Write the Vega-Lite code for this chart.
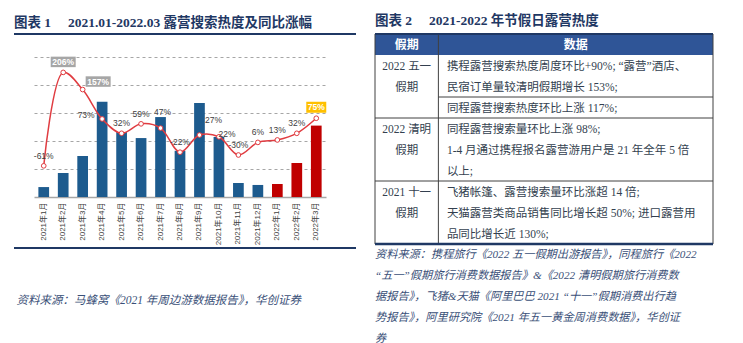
{
"$schema": "https://vega.github.io/schema/vega-lite/v6.json",
"background": "white",
"padding": {"left": 13, "top": 13, "right": 0, "bottom": 0},
"spacing": 16,
"config": {"view": {"stroke": null}},
"datasets": {
"months": [
{"month":"2021年1月","year":"2021","idx":7.1,"yoy":-61},
{"month":"2021年2月","year":"2021","idx":17.1,"yoy":206},
{"month":"2021年3月","year":"2021","idx":29.3,"yoy":157},
{"month":"2021年4月","year":"2021","idx":68,"yoy":73},
{"month":"2021年5月","year":"2021","idx":46.4,"yoy":32},
{"month":"2021年6月","year":"2021","idx":42.1,"yoy":59},
{"month":"2021年7月","year":"2021","idx":57.1,"yoy":47},
{"month":"2021年8月","year":"2021","idx":33,"yoy":-22},
{"month":"2021年9月","year":"2021","idx":67.1,"yoy":27},
{"month":"2021年10月","year":"2021","idx":42.9,"yoy":22},
{"month":"2021年11月","year":"2021","idx":10,"yoy":-30},
{"month":"2021年12月","year":"2021","idx":8.6,"yoy":6},
{"month":"2022年1月","year":"2022","idx":9.3,"yoy":13},
{"month":"2022年2月","year":"2022","idx":24.3,"yoy":32},
{"month":"2022年3月","year":"2022","idx":51,"yoy":75}
],
"table": [
{"part":"header","col":"假期","line":0,"text":"假期"},
{"part":"header","col":"数据","line":0,"text":"数据"},
{"part":"cell","col":"假期","line":1,"text":"2022 五一"},
{"part":"cell","col":"假期","line":2,"text":"假期"},
{"part":"cell","col":"假期","line":4,"text":"2022 清明"},
{"part":"cell","col":"假期","line":5,"text":"假期"},
{"part":"cell","col":"假期","line":7,"text":"2021 十一"},
{"part":"cell","col":"假期","line":8,"text":"假期"},
{"part":"cell","col":"数据","line":1,"text":"携程露营搜索热度周度环比+90%;  “露营”酒店、"},
{"part":"cell","col":"数据","line":2,"text":"民宿订单量较清明假期增长 153%;"},
{"part":"cell","col":"数据","line":3,"text":"同程露营搜索热度环比上涨 117%;"},
{"part":"cell","col":"数据","line":4,"text":"同程露营搜索量环比上涨 98%;"},
{"part":"cell","col":"数据","line":5,"text":"1-4 月通过携程报名露营游用户是 21 年全年 5 倍"},
{"part":"cell","col":"数据","line":6,"text":"以上;"},
{"part":"cell","col":"数据","line":7,"text":"飞猪帐篷、露营搜索量环比涨超 14 倍;"},
{"part":"cell","col":"数据","line":8,"text":"天猫露营类商品销售同比增长超 50%; 进口露营用"},
{"part":"cell","col":"数据","line":9,"text":"品同比增长近 130%;"},
{"part":"source","col":"来源","line":10,"text":"资料来源：携程旅行《2022 五一假期出游报告》，同程旅行《2022"},
{"part":"source","col":"来源","line":11,"text":" “五一”假期旅行消费数据报告》&《2022  清明假期旅行消费数"},
{"part":"source","col":"来源","line":12,"text":"据报告》，飞猪&天猫《阿里巴巴 2021 “十一”假期消费出行趋"},
{"part":"source","col":"来源","line":13,"text":"势报告》，阿里研究院《2021 年五一黄金周消费数据》，华创证"},
{"part":"source","col":"来源","line":14,"text":"券"}
]
},
"hconcat": [
{
"width": 342, "height": 214,
"title": {"text": "图表 1\u3000 2021.01-2022.03 露营搜索热度及同比涨幅", "anchor": "start", "frame": "group", "font": "Liberation Serif, Noto Sans CJK SC", "fontSize": 13.5, "fontWeight": "bold", "color": "#1F3864", "offset": 4},
"data": {"name": "months"},
"transform": [{"calculate": "datum.yoy + '%'", "as": "label"}],
"layer": [
{
"mark": {"type": "bar"},
"encoding": {
"x": {"field": "month", "type": "ordinal", "sort": null,
 "scale": {"domain": ["2021年1月","2021年2月","2021年3月","2021年4月","2021年5月","2021年6月","2021年7月","2021年8月","2021年9月","2021年10月","2021年11月","2021年12月","2022年1月","2022年2月","2022年3月"], "range": [20, 312], "paddingInner": 0.45, "paddingOuter": 0.225},
 "axis": {"orient": "bottom", "offset": -51, "labelAngle": -90, "labelFontSize": 8, "labelFont": "Liberation Sans, Noto Sans CJK SC", "labelColor": "#404040", "labelPadding": 5, "ticks": false, "domainColor": "#A6A6A6", "domainWidth": 1.5, "grid": false, "labelOverlap": false,
  "title": "资料来源：马蜂窝《2021 年周边游数据报告》，华创证券", "titleX": 2, "titleY": 103, "titleAlign": "left", "titleBaseline": "middle", "titleFont": "Liberation Serif, Noto Sans CJK SC", "titleFontStyle": "italic", "titleFontWeight": "normal", "titleFontSize": 11.5, "titleColor": "#3A5078"}},
"y": {"field": "idx", "type": "quantitative", "scale": {"domain": [0, 100], "range": [163, 23], "nice": false, "zero": true},
 "axis": {"orient": "left", "grid": true, "values": [20, 40, 60, 80, 100], "gridDash": [3, 3], "gridColor": "#A6A6A6", "gridWidth": 1, "labels": false, "ticks": false, "domain": false, "title": null}},
"color": {"field": "year", "type": "nominal", "scale": {"domain": ["2021", "2022"], "range": ["#1D5B8E", "#C00000"]}, "legend": null}
}
},
{
"mark": {"type": "line", "interpolate": "catmull-rom", "color": "#E03C41", "strokeWidth": 1.5},
"encoding": {
"x": {"field": "month", "type": "ordinal", "sort": null},
"y": {"field": "yoy", "type": "quantitative", "scale": {"domain": [-150, 250], "range": [163, 23], "nice": false, "zero": false}, "axis": null}
}
},
{
"mark": {"type": "point", "filled": true, "fill": "white", "stroke": "#E03C41", "strokeWidth": 1, "size": 22, "opacity": 1},
"encoding": {
"x": {"field": "month", "type": "ordinal", "sort": null},
"y": {"field": "yoy", "type": "quantitative", "scale": {"domain": [-150, 250], "range": [163, 23], "nice": false, "zero": false}, "axis": null}
}
},
{
"transform": [{"filter": {"field": "month", "oneOf": ["2021年2月", "2021年3月", "2022年3月"]}}],
"mark": {"type": "point", "filled": true, "size": 625, "strokeWidth": 0, "opacity": 1},
"encoding": {
"x": {"field": "month", "type": "ordinal", "sort": null},
"y": {"field": "yoy", "type": "quantitative", "scale": {"domain": [-150, 250], "range": [163, 23], "nice": false, "zero": false}, "axis": null},
"shape": {"field": "month", "type": "nominal", "scale": {"domain": ["2021年2月", "2021年3月", "2022年3月"], "range": ["M-1,-1.26H1V-0.42H-1Z", "M0.24,-1.06H2.24V-0.22H0.24Z", "M-0.8,-1.32H0.8V-0.44H-0.8Z"]}, "legend": null},
"fill": {"field": "month", "type": "nominal", "scale": {"domain": ["2021年2月", "2021年3月", "2022年3月"], "range": ["#A6A6A6", "#A6A6A6", "#FFC000"]}, "legend": null}
}
},
{
"transform": [{"filter": {"field": "month", "equal": "2021年2月"}}],
"mark": {"type": "text", "dy": -10.5, "fontSize": 8.5, "fontWeight": "bold", "fill": "white", "font": "Liberation Sans", "baseline": "middle"},
"encoding": {
"x": {"field": "month", "type": "ordinal", "sort": null},
"y": {"field": "yoy", "type": "quantitative", "scale": {"domain": [-150, 250], "range": [163, 23], "nice": false, "zero": false}, "axis": null},
"text": {"field": "label"}
}
},
{
"transform": [{"filter": {"field": "month", "equal": "2021年3月"}}],
"mark": {"type": "text", "dx": 15.5, "dy": -8, "fontSize": 8.5, "fontWeight": "bold", "fill": "white", "font": "Liberation Sans", "baseline": "middle"},
"encoding": {
"x": {"field": "month", "type": "ordinal", "sort": null},
"y": {"field": "yoy", "type": "quantitative", "scale": {"domain": [-150, 250], "range": [163, 23], "nice": false, "zero": false}, "axis": null},
"text": {"field": "label"}
}
},
{
"transform": [{"filter": {"field": "month", "equal": "2022年3月"}}],
"mark": {"type": "text", "dy": -11, "fontSize": 8.5, "fontWeight": "bold", "fill": "white", "font": "Liberation Sans", "baseline": "middle"},
"encoding": {
"x": {"field": "month", "type": "ordinal", "sort": null},
"y": {"field": "yoy", "type": "quantitative", "scale": {"domain": [-150, 250], "range": [163, 23], "nice": false, "zero": false}, "axis": null},
"text": {"field": "label"}
}
},
{
"transform": [{"filter": "indexof(['2021年2月','2021年3月','2021年4月','2021年7月','2021年9月','2021年10月','2022年3月'], datum.month) < 0"}],
"mark": {"type": "text", "dy": -10, "fontSize": 8.5, "fill": "#404040", "font": "Liberation Sans", "baseline": "middle"},
"encoding": {
"x": {"field": "month", "type": "ordinal", "sort": null},
"y": {"field": "yoy", "type": "quantitative", "scale": {"domain": [-150, 250], "range": [163, 23], "nice": false, "zero": false}, "axis": null},
"text": {"field": "label"}
}
},
{
"transform": [{"filter": {"field": "month", "equal": "2021年4月"}}],
"mark": {"type": "text", "dx": -16, "dy": -4, "fontSize": 8.5, "fill": "#404040", "font": "Liberation Sans", "baseline": "middle"},
"encoding": {
"x": {"field": "month", "type": "ordinal", "sort": null},
"y": {"field": "yoy", "type": "quantitative", "scale": {"domain": [-150, 250], "range": [163, 23], "nice": false, "zero": false}, "axis": null},
"text": {"field": "label"}
}
},
{
"transform": [{"filter": {"field": "month", "equal": "2021年7月"}}],
"mark": {"type": "text", "dx": 2, "dy": -16, "fontSize": 8.5, "fill": "#404040", "font": "Liberation Sans", "baseline": "middle"},
"encoding": {
"x": {"field": "month", "type": "ordinal", "sort": null},
"y": {"field": "yoy", "type": "quantitative", "scale": {"domain": [-150, 250], "range": [163, 23], "nice": false, "zero": false}, "axis": null},
"text": {"field": "label"}
}
},
{
"transform": [{"filter": {"field": "month", "equal": "2021年9月"}}],
"mark": {"type": "text", "dx": 14, "dy": -15, "fontSize": 8.5, "fill": "#404040", "font": "Liberation Sans", "baseline": "middle"},
"encoding": {
"x": {"field": "month", "type": "ordinal", "sort": null},
"y": {"field": "yoy", "type": "quantitative", "scale": {"domain": [-150, 250], "range": [163, 23], "nice": false, "zero": false}, "axis": null},
"text": {"field": "label"}
}
},
{
"transform": [{"filter": {"field": "month", "equal": "2021年10月"}}],
"mark": {"type": "text", "dx": 8, "dy": -3, "fontSize": 8.5, "fill": "#404040", "font": "Liberation Sans", "baseline": "middle"},
"encoding": {
"x": {"field": "month", "type": "ordinal", "sort": null},
"y": {"field": "yoy", "type": "quantitative", "scale": {"domain": [-150, 250], "range": [163, 23], "nice": false, "zero": false}, "axis": null},
"text": {"field": "label"}
}
},
{
"data": {"values": [{}]},
"mark": {"type": "rule", "color": "#1F3864", "strokeWidth": 2},
"encoding": {"y": {"value": 0}}
},
{
"data": {"values": [{}]},
"mark": {"type": "rule", "color": "#1F3864", "strokeWidth": 2},
"encoding": {"y": {"value": "height"}}
}
],
"resolve": {"scale": {"y": "independent"}}
},
{
"width": 338, "height": 210,
"title": {"text": "图表 2\u3000 2021-2022 年节假日露营热度", "anchor": "start", "frame": "group", "font": "Liberation Serif, Noto Sans CJK SC", "fontSize": 13.5, "fontWeight": "bold", "color": "#1F3864", "offset": 6},
"layer": [
{
"data": {"values": [{}]},
"mark": {"type": "rect", "fill": "#2F5597"},
"encoding": {
"x": {"datum": 0, "type": "quantitative", "scale": {"domain": [0, 16], "nice": false, "zero": false}, "axis": null},
"x2": {"datum": 16},
"y": {"datum": 0, "type": "quantitative", "scale": {"domain": [0, 10], "reverse": true, "nice": false, "zero": false}, "axis": null},
"y2": {"datum": 1}
}
},
{
"data": {"values": [{}]},
"mark": {"type": "rect", "fill": "transparent", "stroke": "#404040", "strokeWidth": 1},
"encoding": {
"x": {"datum": 0, "type": "quantitative", "scale": {"domain": [0, 16], "nice": false, "zero": false}, "axis": null},
"x2": {"datum": 16},
"y": {"datum": 0, "type": "quantitative", "scale": {"domain": [0, 10], "reverse": true, "nice": false, "zero": false}, "axis": null},
"y2": {"datum": 10}
}
},
{
"data": {"values": [{}]},
"mark": {"type": "rule", "color": "#404040", "strokeWidth": 1},
"encoding": {
"x": {"datum": 3, "type": "quantitative", "scale": {"domain": [0, 16], "nice": false, "zero": false}, "axis": null},
"y": {"datum": 0, "type": "quantitative", "scale": {"domain": [0, 10], "reverse": true, "nice": false, "zero": false}, "axis": null},
"y2": {"datum": 10}
}
},
{
"data": {"values": [{}]},
"mark": {"type": "rule", "color": "#404040", "strokeWidth": 1},
"encoding": {
"x": {"datum": 3, "type": "quantitative", "scale": {"domain": [0, 16], "nice": false, "zero": false}, "axis": null},
"x2": {"datum": 16},
"y": {"datum": 3, "type": "quantitative", "scale": {"domain": [0, 10], "reverse": true, "nice": false, "zero": false}, "axis": null}
}
},
{
"data": {"values": [{}]},
"mark": {"type": "rule", "color": "#404040", "strokeWidth": 1},
"encoding": {
"x": {"datum": 0, "type": "quantitative", "scale": {"domain": [0, 16], "nice": false, "zero": false}, "axis": null},
"x2": {"datum": 16},
"y": {"datum": 4, "type": "quantitative", "scale": {"domain": [0, 10], "reverse": true, "nice": false, "zero": false}, "axis": null}
}
},
{
"data": {"values": [{}]},
"mark": {"type": "rule", "color": "#404040", "strokeWidth": 1},
"encoding": {
"x": {"datum": 0, "type": "quantitative", "scale": {"domain": [0, 16], "nice": false, "zero": false}, "axis": null},
"x2": {"datum": 16},
"y": {"datum": 7, "type": "quantitative", "scale": {"domain": [0, 10], "reverse": true, "nice": false, "zero": false}, "axis": null}
}
},
{
"data": {"values": [{}]},
"mark": {"type": "rule", "color": "#1F3864", "strokeWidth": 2},
"encoding": {
"x": {"datum": 0, "type": "quantitative", "scale": {"domain": [0, 16], "nice": false, "zero": false}, "axis": null},
"x2": {"datum": 16},
"y": {"datum": 0, "type": "quantitative", "scale": {"domain": [0, 10], "reverse": true, "nice": false, "zero": false}, "axis": null}
}
},
{
"data": {"values": [{}]},
"mark": {"type": "rule", "color": "#1F3864", "strokeWidth": 2.5},
"encoding": {
"x": {"datum": 0, "type": "quantitative", "scale": {"domain": [0, 16], "nice": false, "zero": false}, "axis": null},
"x2": {"datum": 16},
"y": {"datum": 10, "type": "quantitative", "scale": {"domain": [0, 10], "reverse": true, "nice": false, "zero": false}, "axis": null}
}
},
{
"data": {"name": "table"},
"transform": [{"filter": "datum.part == 'header' && datum.col == '假期'"}],
"mark": {"type": "text", "dy": 10.5, "fontSize": 12, "fontWeight": "bold", "fill": "white", "font": "Noto Sans CJK SC", "baseline": "middle", "align": "center"},
"encoding": {
"x": {"datum": 1.5, "type": "quantitative", "scale": {"domain": [0, 16], "nice": false, "zero": false}, "axis": null},
"y": {"field": "line", "type": "quantitative", "scale": {"domain": [0, 10], "reverse": true, "nice": false, "zero": false}, "axis": null},
"text": {"field": "text"}
}
},
{
"data": {"name": "table"},
"transform": [{"filter": "datum.part == 'header' && datum.col == '数据'"}],
"mark": {"type": "text", "dy": 10.5, "fontSize": 12, "fontWeight": "bold", "fill": "white", "font": "Noto Sans CJK SC", "baseline": "middle", "align": "center"},
"encoding": {
"x": {"datum": 9.5, "type": "quantitative", "scale": {"domain": [0, 16], "nice": false, "zero": false}, "axis": null},
"y": {"field": "line", "type": "quantitative", "scale": {"domain": [0, 10], "reverse": true, "nice": false, "zero": false}, "axis": null},
"text": {"field": "text"}
}
},
{
"data": {"name": "table"},
"transform": [{"filter": "datum.part == 'cell' && datum.col == '假期'"}],
"mark": {"type": "text", "dy": 11.5, "fontSize": 11.5, "fill": "#333F4F", "font": "Liberation Serif, Noto Sans CJK SC", "baseline": "middle", "align": "center"},
"encoding": {
"x": {"datum": 1.5, "type": "quantitative", "scale": {"domain": [0, 16], "nice": false, "zero": false}, "axis": null},
"y": {"field": "line", "type": "quantitative", "scale": {"domain": [0, 10], "reverse": true, "nice": false, "zero": false}, "axis": null},
"text": {"field": "text"}
}
},
{
"data": {"name": "table"},
"transform": [{"filter": "datum.part == 'cell' && datum.col == '数据'"}],
"mark": {"type": "text", "dx": 8.5, "dy": 11.5, "fontSize": 11.5, "fill": "#333F4F", "font": "Liberation Serif, Noto Sans CJK SC", "baseline": "middle", "align": "left"},
"encoding": {
"x": {"datum": 3, "type": "quantitative", "scale": {"domain": [0, 16], "nice": false, "zero": false}, "axis": null},
"y": {"field": "line", "type": "quantitative", "scale": {"domain": [0, 10], "reverse": true, "nice": false, "zero": false}, "axis": null},
"text": {"field": "text"}
}
},
{
"data": {"name": "table"},
"transform": [{"filter": "datum.part == 'source'"}],
"mark": {"type": "text", "dy": 10.5, "fontSize": 11.2, "fontStyle": "italic", "fill": "#3A5078", "font": "Liberation Serif, Noto Sans CJK SC", "baseline": "middle", "align": "left"},
"encoding": {
"x": {"datum": 0, "type": "quantitative", "scale": {"domain": [0, 16], "nice": false, "zero": false}, "axis": null},
"y": {"field": "line", "type": "quantitative", "scale": {"domain": [0, 10], "reverse": true, "nice": false, "zero": false}, "axis": null},
"text": {"field": "text"}
}
}
]
}
]
}
